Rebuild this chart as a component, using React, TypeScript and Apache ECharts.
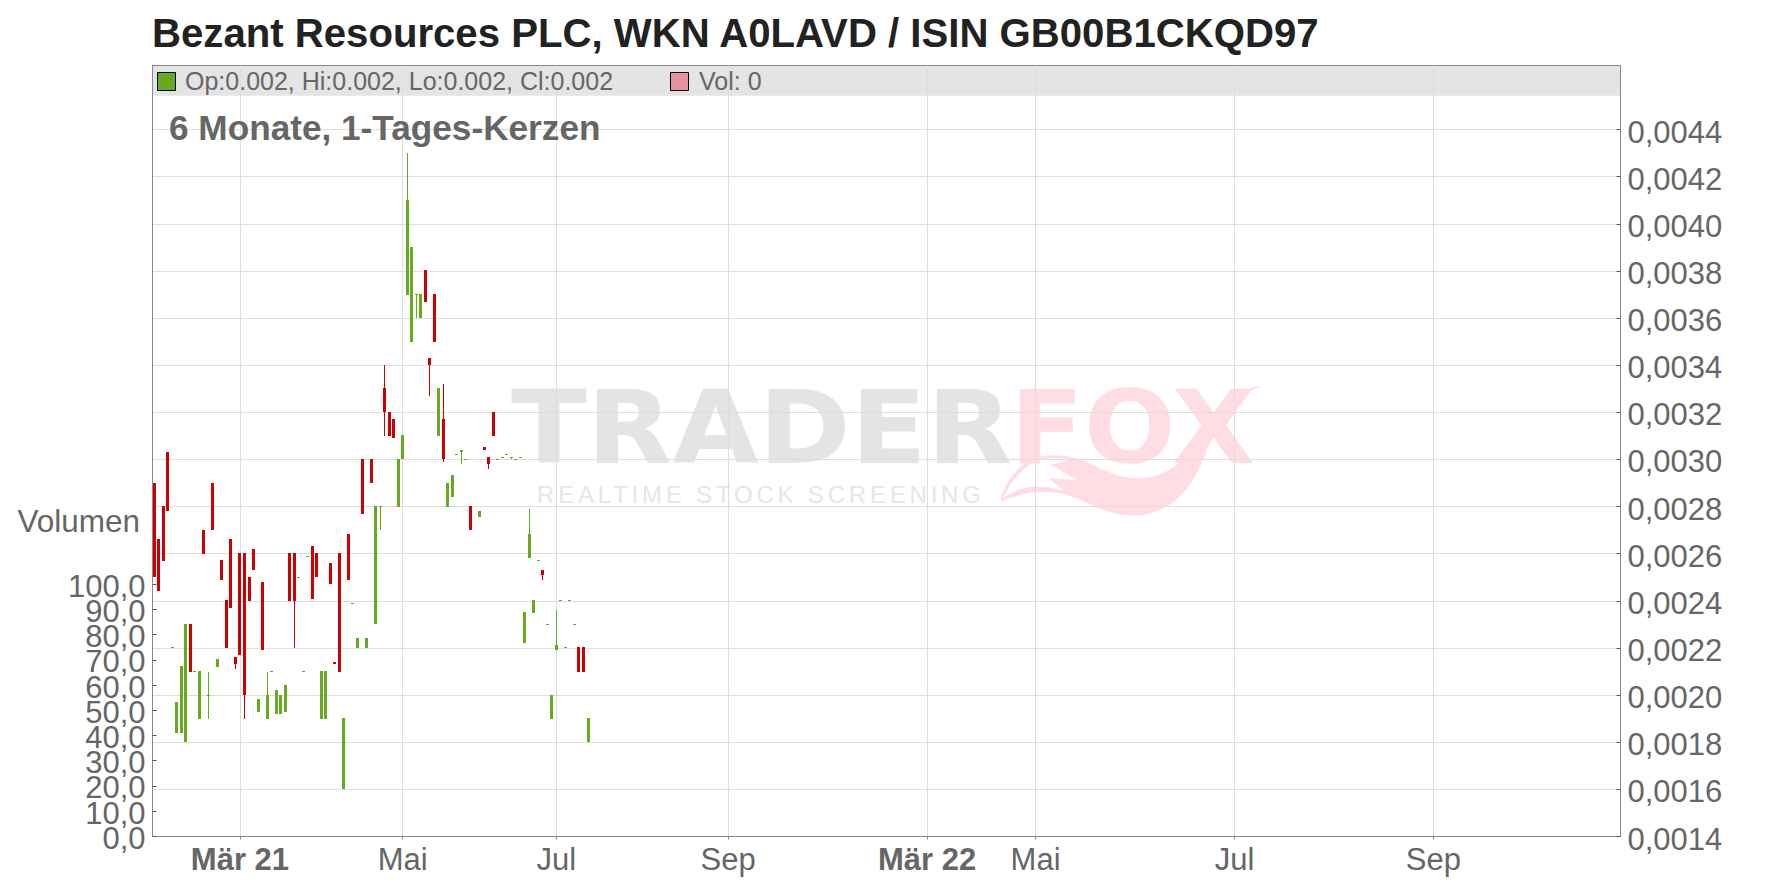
import React, { useEffect, useRef } from "react";
import * as echarts from "echarts";

const titleText = "Bezant Resources PLC, WKN A0LAVD / ISIN GB00B1CKQD97";
const periodText = "6 Monate, 1-Tages-Kerzen";
const ohlcText = "Op:0.002, Hi:0.002, Lo:0.002, Cl:0.002";
const volText = "Vol: 0";
const volumeAxisName = "Volumen";

const priceTicks = [0.0014, 0.0016, 0.0018, 0.002, 0.0022, 0.0024, 0.0026, 0.0028, 0.003, 0.0032, 0.0034, 0.0036, 0.0038, 0.004, 0.0042, 0.0044];
const volumeTicks = [0, 10, 20, 30, 40, 50, 60, 70, 80, 90, 100];
const monthSlots = [19, 55, 89, 127, 171, 195, 239, 283];
const monthLabels = ["Mär 21", "Mai", "Jul", "Sep", "Mär 22", "Mai", "Jul", "Sep"];
const boldMonths = ["Mär 21", "Mär 22"];

// trading slots 0..96, null = no quote in that slot
const opens = [
  0.0029, 0.00266, 0.0028, 0.00303, 0.0022, 0.00184, 0.00184, 0.0018, 0.0023, 0.0021,
  0.0019, 0.0027, 0.002, 0.0029, 0.00212, 0.00257, 0.0024, 0.00266, 0.00216, 0.0026,
  0.0026, 0.0025, 0.00262, 0.00193, 0.00248, 0.0019, 0.0021, 0.00192, 0.00192, 0.00193,
  0.0026, 0.0026, 0.0025, 0.0021, 0.00259, 0.00263, 0.0026, 0.0019, 0.0019, 0.00256,
  0.00214, 0.0026, 0.0016, 0.00268, 0.00239, 0.0022, 0.003, 0.0022, 0.003, 0.0023,
  0.0028, 0.0033, 0.0032, 0.00317, 0.0028, 0.003, 0.0037, 0.0035, 0.0037, 0.0036,
  0.0038, 0.00343, 0.0037, 0.0031, 0.00317, 0.0028, 0.00284, 0.00302, 0.00303, 0.003,
  0.0028, null, 0.002755, 0.00305, 0.00301, 0.0032, 0.003, 0.00301, 0.00302, 0.00301,
  0.003, 0.00301, 0.00222, 0.00258, 0.00235, 0.00257, 0.00253, 0.0023, 0.0019, 0.00219,
  0.0024, 0.0022, 0.0024, 0.0023, 0.0022, 0.0022, 0.0018,
];
const closes = [
  0.0025, 0.00244, 0.00257, 0.00278, 0.0022, 0.00197, 0.00212, 0.0023, 0.0021, 0.0021,
  0.0021, 0.0026, 0.002, 0.0027, 0.00215, 0.00249, 0.0022, 0.00237, 0.00213, 0.00217,
  0.002, 0.0024, 0.00253, 0.00198, 0.00219, 0.002, 0.0021, 0.00202, 0.002, 0.00204,
  0.0024, 0.0024, 0.0025, 0.0021, 0.00259, 0.00241, 0.0025, 0.0021, 0.0021, 0.00247,
  0.00213, 0.0021, 0.0019, 0.00249, 0.00239, 0.00224, 0.00277, 0.00224, 0.0029, 0.0028,
  0.0028, 0.0032, 0.0031, 0.00309, 0.003, 0.0031, 0.0041, 0.0039, 0.0037, 0.0037,
  0.00367, 0.0034, 0.0035, 0.0033, 0.003, 0.0029, 0.00293, 0.00302, 0.00304, 0.003,
  0.0027, null, 0.00278, 0.00304, 0.00298, 0.0031, 0.003, 0.00301, 0.00302, 0.00301,
  0.003, 0.00301, 0.00235, 0.00268, 0.0024, 0.00257, 0.00251, 0.0023, 0.002, 0.00221,
  0.0024, 0.0022, 0.0024, 0.0023, 0.0021, 0.0021, 0.0019,
];
const lows = [
  0.0025, 0.00244, 0.00257, 0.00278, 0.0022, 0.00184, 0.00184, 0.0018, 0.0021, 0.0021,
  0.0019, 0.0026, 0.0019, 0.0027, 0.00212, 0.00249, 0.0022, 0.00237, 0.00211, 0.00217,
  0.0019, 0.0024, 0.00253, 0.00193, 0.00219, 0.0019, 0.0021, 0.00192, 0.00192, 0.00193,
  0.0024, 0.0022, 0.0025, 0.0021, 0.00259, 0.00241, 0.0025, 0.0019, 0.0019, 0.00247,
  0.00213, 0.0021, 0.0016, 0.00249, 0.00239, 0.0022, 0.00277, 0.0022, 0.0029, 0.0023,
  0.0027, 0.0031, 0.0031, 0.00309, 0.0028, 0.003, 0.0037, 0.0035, 0.0036, 0.0036,
  0.00367, 0.00327, 0.0035, 0.0031, 0.00299, 0.0028, 0.00284, 0.00302, 0.00298, 0.003,
  0.0027, null, 0.002755, 0.00304, 0.00296, 0.0031, 0.003, 0.00301, 0.00302, 0.003,
  0.003, 0.00301, 0.00222, 0.00258, 0.00235, 0.00257, 0.00249, 0.0023, 0.0019, 0.00219,
  0.0024, 0.0022, 0.0024, 0.0023, 0.0021, 0.0021, 0.0018,
];
const highs = [
  0.0029, 0.00266, 0.0028, 0.00303, 0.0022, 0.00197, 0.00212, 0.0023, 0.0023, 0.0021,
  0.0021, 0.0027, 0.0021, 0.0029, 0.00215, 0.00257, 0.0024, 0.00266, 0.00216, 0.0026,
  0.0026, 0.0025, 0.00262, 0.00198, 0.00248, 0.0021, 0.0021, 0.00202, 0.002, 0.00204,
  0.0026, 0.0026, 0.0025, 0.0021, 0.00259, 0.00263, 0.0026, 0.0021, 0.0021, 0.00256,
  0.00214, 0.0026, 0.0019, 0.00268, 0.00239, 0.00224, 0.003, 0.00224, 0.003, 0.0028,
  0.0028, 0.0034, 0.0032, 0.00317, 0.003, 0.0031, 0.0043, 0.0039, 0.0037, 0.0037,
  0.0038, 0.00343, 0.0037, 0.0033, 0.00332, 0.0029, 0.00293, 0.00302, 0.00304, 0.003,
  0.0028, null, 0.00278, 0.00305, 0.00301, 0.0032, 0.003, 0.00301, 0.00302, 0.00301,
  0.003, 0.00301, 0.00235, 0.00279, 0.0024, 0.00257, 0.00253, 0.0023, 0.002, 0.00236,
  0.0024, 0.0022, 0.0024, 0.0023, 0.0022, 0.0022, 0.0019,
];

const FONT = "Liberation Sans";
const GREEN = "#66aa1e";
const RED = "#cc0000";
const TEXT = "#666666";
const GRID = "#dddddd";
const AXIS = "#888888";

const TAIL =
  "M 785 48 C 720 55 680 90 650 170 L 610 270 C 570 370 500 437 400 437 C 330 437 290 410 230 385 C 160 355 80 360 5 395 L 0 390 C 20 330 60 270 130 258 C 200 250 250 270 300 295 C 340 315 380 325 420 325 C 480 325 530 290 560 260 C 600 210 650 100 785 48 Z " +
  "M 8 385 C 40 365 70 350 110 350 C 140 350 170 355 195 365 L 145 325 L 235 330 L 150 285 L 215 268 C 170 262 130 268 130 268 C 90 275 45 310 8 385 Z";

const renderCandle = (_: any, api: any) => {
  const slot = api.value(0);
  const open = api.value(1);
  const close = api.value(2);
  const low = api.value(3);
  const high = api.value(4);
  const cx = api.coord([slot, open])[0];
  const left = Math.round(cx - 1.5);
  const yOpen = api.coord([slot, open])[1];
  const yClose = api.coord([slot, close])[1];
  const yLow = Math.round(api.coord([slot, low])[1]);
  const yHigh = Math.round(api.coord([slot, high])[1]);
  const fill = close < open ? RED : GREEN;
  const top = Math.floor(Math.min(yOpen, yClose));
  const bottom = Math.max(top + 1, Math.round(Math.max(yOpen, yClose)));
  const children: any[] = [];
  if (yLow !== yHigh && (yHigh < top || yLow > bottom)) {
    children.push({ type: "rect", shape: { x: left + 1, y: yHigh, width: 1, height: yLow - yHigh }, style: { fill } });
  }
  children.push({ type: "rect", shape: { x: left, y: top, width: 3, height: bottom - top }, style: { fill } });
  return { type: "group", children };
};

export default function App() {
  const ref = useRef<HTMLDivElement>(null);
  useEffect(() => {
    echarts.graphic.registerShape("foxTail", echarts.graphic.extendPath(TAIL, {}) as any);
    const chart = echarts.init(ref.current!, undefined, { renderer: "svg" });
    const candles: any[] = [];
    opens.forEach((o, i) => {
      if (o != null) candles.push([i, o, closes[i], lows[i], highs[i]]);
    });
    const txt = (x: number, y: number, text: string, size: number, fill: any, extra: any = {}) => ({
      type: "text",
      x,
      y,
      z: extra.z ?? 5,
      silent: true,
      scaleX: extra.scaleX ?? 1,
      style: {
        text,
        fill,
        font: `${extra.weight ?? "normal"} ${size}px "${extra.family ?? FONT}"`,
        align: extra.align ?? "left",
        verticalAlign: "middle",
      },
    });
    chart.setOption({
      animation: false,
      backgroundColor: "#ffffff",
      grid: {
        left: 152.5,
        right: 1776 - 1620.5,
        top: 65.5,
        bottom: 888 - 836.5,
        show: true,
        borderColor: AXIS,
        borderWidth: 1,
        backgroundColor: "transparent",
      },
      xAxis: {
        type: "value",
        min: -0.35,
        max: 324.4,
        axisLine: { show: true, onZero: false, lineStyle: { color: AXIS, width: 1 } },
        axisTick: { show: true, length: 3, customValues: monthSlots, lineStyle: { color: AXIS } },
        splitLine: { show: true, lineStyle: { color: GRID, width: 1 } },
        axisLabel: {
          customValues: monthSlots,
          margin: 7,
          fontFamily: FONT,
          fontSize: 31,
          color: TEXT,
          formatter: (v: number) => {
            const s = monthLabels[monthSlots.indexOf(v)] ?? "";
            return boldMonths.includes(s) ? `{b|${s}}` : s;
          },
          rich: { b: { fontFamily: FONT, fontSize: 31, fontWeight: "bold", color: TEXT } },
        },
      },
      yAxis: [
        {
          type: "value",
          position: "right",
          min: 0.0014,
          max: 0.004672,
          axisLine: { show: true, onZero: false, lineStyle: { color: AXIS } },
          axisTick: { show: true, inside: true, length: 4, customValues: priceTicks, lineStyle: { color: "#555555" } },
          splitLine: { show: true, lineStyle: { color: GRID, width: 1 } },
          axisLabel: {
            customValues: priceTicks,
            margin: 7,
            verticalAlign: "top",
            lineHeight: 5,
            fontFamily: FONT,
            fontSize: 31,
            color: TEXT,
            showMinLabel: true,
            showMaxLabel: true,
            formatter: (v: number) => v.toFixed(4).replace(".", ","),
          },
        },
        {
          type: "value",
          position: "left",
          min: -0.1,
          max: 306,
          axisLine: { show: true, onZero: false, lineStyle: { color: AXIS } },
          axisTick: { show: true, inside: true, length: 4, customValues: volumeTicks, lineStyle: { color: "#555555" } },
          splitLine: { show: false },
          axisLabel: {
            // two blank guard labels keep the min/max overlap rule away from 0,0 and 100,0
            customValues: [-0.1, ...volumeTicks, 100.1],
            margin: 7,
            verticalAlign: "top",
            lineHeight: 4,
            fontFamily: FONT,
            fontSize: 31,
            color: TEXT,
            formatter: (v: number) => (volumeTicks.includes(v) ? v.toFixed(1).replace(".", ",") : " "),
          },
        },
      ],
      series: [
        {
          type: "custom",
          name: "OHLC",
          yAxisIndex: 0,
          z: 3,
          clip: true,
          encode: { x: 0, y: [1, 2, 3, 4] },
          renderItem: renderCandle,
          data: candles,
        },
      ],
      graphic: {
        z: -1,
        elements: [
          { type: "rect", z: -1, silent: true, shape: { x: 152.5, y: 65.5, width: 1468, height: 30.2 }, style: { fill: "#e4e4e4" } },
          txt(511, 428, "TRADER", 102, "#e4e4e4", { z: -1, weight: "bold", family: "DejaVu Sans", scaleX: 1.09 }),
          txt(1010, 428, "FOX", 102, "#ffdde2", { z: -1, weight: "bold", family: "DejaVu Sans", scaleX: 1.06 }),
          txt(537, 494, "REALTIME STOCK SCREENING", 24, "#e6e6e6", { z: -1 }),
          { type: "foxTail", z: -1, silent: true, x: 1000, y: 370, scaleX: 1 / 3, scaleY: 1 / 3, style: { fill: "#ffdde2" } },
          txt(152, 33, titleText, 40.15, "#222222", { weight: "bold" }),
          txt(169, 127, periodText, 35.2, TEXT, { weight: "bold" }),
          { type: "rect", z: 5, silent: true, shape: { x: 157.5, y: 72.5, width: 18, height: 18 }, style: { fill: GREEN, stroke: "#000000", lineWidth: 1 } },
          txt(185, 81, ohlcText, 25, TEXT),
          { type: "rect", z: 5, silent: true, shape: { x: 670.5, y: 72.5, width: 18, height: 18 }, style: { fill: "#e8929f", stroke: "#000000", lineWidth: 1 } },
          txt(699, 81, volText, 25, TEXT),
          txt(140, 521, volumeAxisName, 31.5, TEXT, { align: "right" }),
        ],
      },
    });
    const root = chart.getDom();
    root.querySelectorAll("text").forEach((t) => {
      if (t.textContent === "REALTIME STOCK SCREENING") (t as any).style.letterSpacing = "3.8px";
    });
    return () => chart.dispose();
  }, []);
  return <div ref={ref} style={{ position: "fixed", left: 0, top: 0, width: 1776, height: 888 }} />;
}
